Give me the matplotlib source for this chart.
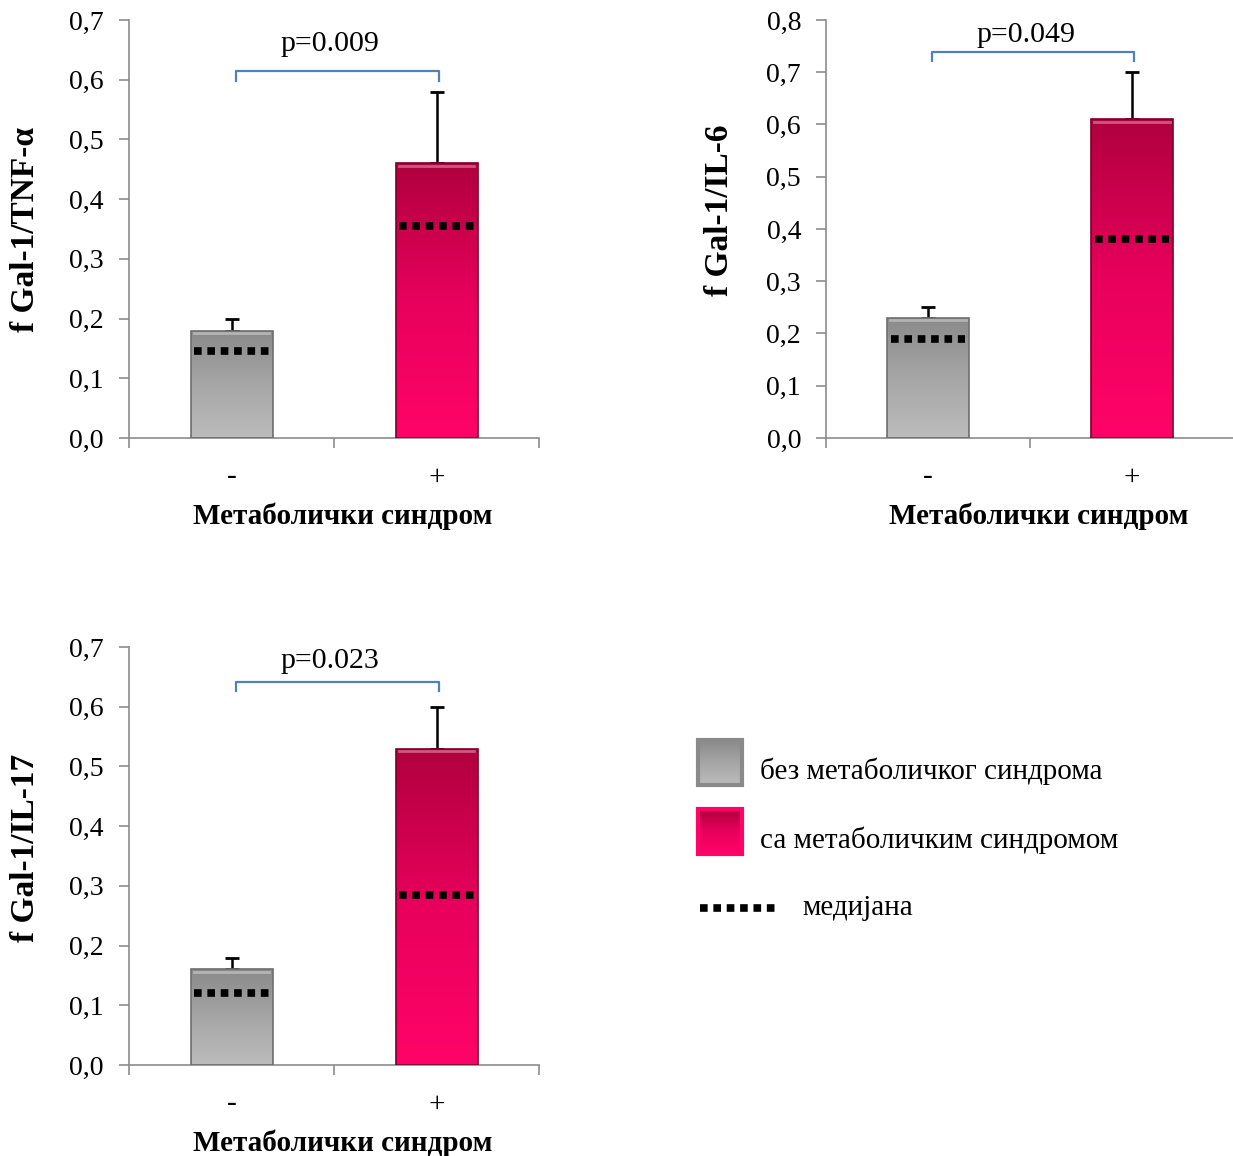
import numpy as np
import matplotlib
matplotlib.use("Agg")
import matplotlib.pyplot as plt
from matplotlib.colors import LinearSegmentedColormap

plt.rcParams['font.family'] = ['Liberation Serif', 'DejaVu Serif']

# data
groups = ['-', '+']
ylabels = ['f Gal-1/TNF-α', 'f Gal-1/IL-6', 'f Gal-1/IL-17']
means = [[0.18, 0.46], [0.23, 0.61], [0.16, 0.53]]
errs = [[0.02, 0.12], [0.02, 0.09], [0.02, 0.07]]
medians = [[0.145, 0.355], [0.19, 0.38], [0.12, 0.285]]
pvals = ['p=0.009', 'p=0.049', 'p=0.023']
ymax = [0.7, 0.8, 0.7]
bracket_y = [0.614, 0.739, 0.641]
text_y = [0.66, 0.771, 0.677]
legend_labels = ['без метаболичког синдрома', 'са метаболичким синдромом', 'медијана']

grey_cm = LinearSegmentedColormap.from_list('g', ['#bcbcbc', '#a6a6a6', '#8a8a8a'])
pink_cm = LinearSegmentedColormap.from_list('p', ['#ff0468', '#e8005c', '#b0003e'])
cmaps = [grey_cm, pink_cm]
edges = ['#6e6e6e', '#7a0028']
spine_c = '#8c8c8c'
dots = (0, (1.0, 0.75))

W, H = 1233, 1156
fig = plt.figure(figsize=(W / 100, H / 100), dpi=100)

# axes boxes in pixels: left, zero-line y, right, top y
boxes = [(129, 438, 539, 20), (826, 438, 1234, 20), (129, 1065, 539, 647)]
ylab_pos = [(-0.2146, 0.5), (-0.223, 0.545), (-0.2146, 0.52)]

for i, (l, b, r, t) in enumerate(boxes):
    ax = fig.add_axes([l / W, 1 - b / H, (r - l) / W, (b - t) / H])
    x = np.arange(len(groups))
    # error bars under the bars so only the top cap shows
    ax.errorbar(x, means[i], yerr=[[0, 0], errs[i]], fmt='none', ecolor='black',
                elinewidth=1.8, capsize=5, capthick=2, zorder=1.5)
    bars = ax.bar(x, means[i], width=0.4, color='none', edgecolor='none', zorder=2)
    for k, rect in enumerate(bars):
        x0, y0 = rect.get_xy()
        w, h = rect.get_width(), rect.get_height()
        grad = np.linspace(0, 1, 256).reshape(-1, 1)
        im = ax.imshow(grad, cmap=cmaps[k], extent=[x0, x0 + w, y0, y0 + h],
                       aspect='auto', origin='lower', zorder=2)
        im.set_clip_path(rect)
        # outline and top highlight for bevel look
        ax.bar(rect.get_x() + w / 2, h, width=w, color='none',
               edgecolor=edges[k], linewidth=1.2, zorder=3)
        ax.plot([x0 + w * 0.04, x0 + w * 0.96], [h - ymax[i] * 0.006] * 2,
                color='white', alpha=0.35, lw=2, zorder=3)
    for k in range(len(groups)):
        ax.plot([x[k] - 0.181, x[k] + 0.181], [medians[i][k]] * 2, color='black',
                lw=5.5, linestyle=dots, dash_capstyle='butt', zorder=5)
    # significance bracket
    drop = ymax[i] * 0.022
    ax.plot([0.02, 0.02, 1.01, 1.01],
            [bracket_y[i] - drop, bracket_y[i], bracket_y[i], bracket_y[i] - drop],
            color='#4f81bd', lw=1.6, solid_joinstyle='round', zorder=4)
    ax.text(0.48, text_y[i], pvals[i], ha='center', va='center', fontsize=21.5)

    ax.set_xlim(-0.5, 1.5)
    ax.set_ylim(0, ymax[i])
    ticks = np.arange(0, ymax[i] + 0.001, 0.1)
    ax.set_yticks(ticks)
    ax.set_yticklabels([f'{v:.1f}'.replace('.', ',') for v in ticks])
    ax.set_xticks(x)
    ax.set_xticklabels(groups, fontsize=21)
    ax.set_xticks([-0.5, 0.5, 1.5], minor=True)
    ax.tick_params(axis='x', which='major', length=0, pad=19)
    ax.tick_params(axis='x', which='minor', length=7, color=spine_c, width=1.2)
    ax.tick_params(axis='y', length=7, color=spine_c, width=1.2, labelsize=20, pad=11)
    for s in ['top', 'right']:
        ax.spines[s].set_visible(False)
    for s in ['left', 'bottom']:
        ax.spines[s].set_color(spine_c)
        ax.spines[s].set_linewidth(1.2)
    ax.set_ylabel(ylabels[i], fontsize=24, fontweight='bold')
    ax.yaxis.set_label_coords(*ylab_pos[i])
    ax.set_xlabel('Метаболички синдром', fontsize=21, fontweight='bold')
    ax.xaxis.set_label_coords(0.522, -0.155)

# legend drawn in pixel coordinates
lg = fig.add_axes([0, 0, 1, 1], zorder=10)
lg.axis('off')
grad = np.linspace(0, 1, 256).reshape(-1, 1)
for k, ytop in enumerate([740, 809]):
    lg.imshow(grad, cmap=cmaps[k], extent=[698, 742, ytop, ytop + 45],
              aspect='auto', origin='upper', zorder=2)
    lg.add_patch(plt.Rectangle((698, ytop), 44, 45, fill=False,
                               edgecolor=['#8a8a8a', '#ff0468'][k], lw=3, zorder=3))
    lg.text(760, ytop + 31, legend_labels[k], fontsize=21, va='center')
lg.plot([700, 778], [908, 908], color='black', lw=5.5, linestyle=dots,
        dash_capstyle='butt')
lg.text(802, 908, legend_labels[2], fontsize=21, va='center')
lg.set_xlim(0, W)
lg.set_ylim(H, 0)

fig.savefig('out.png', dpi=100)
